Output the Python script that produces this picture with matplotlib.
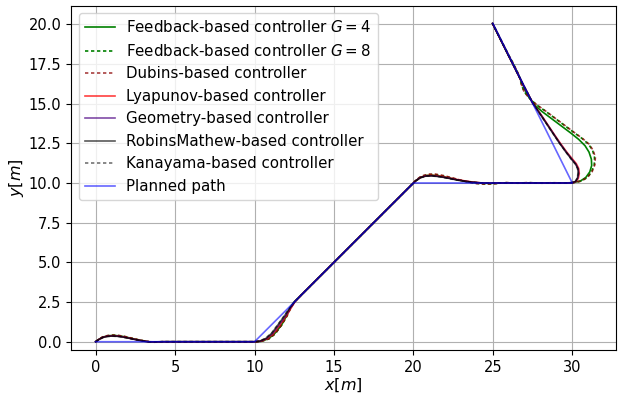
import matplotlib
matplotlib.use("Agg")
import matplotlib.pyplot as plt

# ---------------- data ----------------
plan_x = [0, 10, 20, 30, 25]
plan_y = [0, 0, 10, 10, 20.05]

# RobinsMathew-based controller
rm_x = [0, 0.2, 0.45, 0.75, 1.1, 1.5, 1.9, 2.3, 2.7, 3.1, 3.4, 3.7, 4.2, 10.0,
        10.3, 10.7, 11.1, 11.5, 11.9, 12.2, 12.5, 13.0, 19.8,
        20.15, 20.45, 20.8, 21.2, 21.7, 22.2, 22.7, 23.2, 23.7, 24.2, 24.7, 25.5, 29.7,
        30.0, 30.2, 30.32, 30.38, 30.35, 30.2, 29.95, 29.6, 29.2, 28.8, 28.4, 28.0, 27.7,
        27.5, 27.25, 27.0, 26.6, 26.0, 24.98]
rm_y = [0, 0.14, 0.27, 0.34, 0.36, 0.33, 0.26, 0.18, 0.10, 0.03, -0.01, -0.01, 0.0, 0.0,
        0.03, 0.2, 0.55, 1.1, 1.65, 2.1, 2.5, 3.0, 9.8,
        10.14, 10.34, 10.44, 10.45, 10.39, 10.30, 10.20, 10.12, 10.05, 10.01, 9.99, 10.0, 10.0,
        10.02, 10.1, 10.3, 10.6, 10.9, 11.2, 11.5, 11.95, 12.5, 13.1, 13.7, 14.3, 14.75,
        15.05, 15.55, 16.02, 16.8, 18.0, 20.05]

# Kanayama-based controller
kan_x = [0, 0.2, 0.45, 0.75, 1.1, 1.5, 1.9, 2.3, 2.7, 3.1, 3.4, 3.7, 4.2, 10.0,
         10.3, 10.7, 11.1, 11.5, 11.9, 12.2, 12.5, 13.0, 19.8,
         20.15, 20.45, 20.8, 21.2, 21.7, 22.2, 22.7, 23.2, 23.7, 24.2, 24.7, 25.5, 29.7,
         30.0, 30.2, 30.3, 30.36, 30.33, 30.18, 29.93, 29.6, 29.2, 28.8, 28.4, 28.0, 27.7,
         27.5, 27.25, 27.0, 26.6, 26.0, 24.98]
kan_y = [0, 0.13, 0.26, 0.33, 0.35, 0.32, 0.25, 0.17, 0.09, 0.03, -0.01, -0.01, 0.0, 0.0,
         0.04, 0.22, 0.58, 1.12, 1.68, 2.12, 2.5, 3.0, 9.8,
         10.13, 10.33, 10.43, 10.44, 10.38, 10.29, 10.19, 10.11, 10.05, 10.01, 9.99, 10.0, 10.0,
         10.02, 10.1, 10.3, 10.6, 10.9, 11.2, 11.5, 11.95, 12.5, 13.1, 13.7, 14.3, 14.75,
         15.05, 15.55, 16.02, 16.8, 18.0, 20.05]

# Geometry-based controller
geo_x = [0, 0.2, 0.45, 0.75, 1.1, 1.5, 1.9, 2.3, 2.7, 3.1, 3.4, 3.7, 4.2, 10.0,
         10.35, 10.75, 11.15, 11.55, 11.95, 12.25, 12.55, 13.0, 19.8,
         20.15, 20.45, 20.8, 21.2, 21.7, 22.2, 22.7, 23.2, 23.7, 24.2, 24.7, 25.5, 29.7,
         30.02, 30.22, 30.34, 30.4, 30.37, 30.22, 29.97, 29.62, 29.22, 28.82, 28.42, 28.02, 27.7,
         27.5, 27.25, 27.0, 26.6, 26.0, 24.98]
geo_y = [0, 0.14, 0.28, 0.35, 0.37, 0.34, 0.27, 0.18, 0.10, 0.03, -0.01, -0.01, 0.0, 0.0,
         0.03, 0.19, 0.53, 1.07, 1.62, 2.1, 2.52, 3.0, 9.8,
         10.15, 10.35, 10.45, 10.46, 10.40, 10.31, 10.21, 10.12, 10.05, 10.01, 9.99, 10.0, 10.0,
         10.02, 10.1, 10.3, 10.6, 10.9, 11.2, 11.5, 11.95, 12.5, 13.1, 13.7, 14.3, 14.75,
         15.05, 15.55, 16.02, 16.8, 18.0, 20.05]

# Lyapunov-based controller
lya_x = [0, 0.2, 0.45, 0.75, 1.1, 1.5, 1.9, 2.3, 2.7, 3.1, 3.4, 3.7, 4.2, 10.0,
         10.35, 10.8, 11.2, 11.6, 12.0, 12.3, 12.55, 13.0, 19.8,
         20.15, 20.48, 20.85, 21.25, 21.75, 22.25, 22.75, 23.25, 23.75, 24.25, 24.75, 25.5, 29.7,
         30.03, 30.25, 30.38, 30.44, 30.4, 30.25, 30.0, 29.65, 29.25, 28.85, 28.45, 28.05, 27.72,
         27.5, 27.25, 27.0, 26.6, 26.0, 24.98]
lya_y = [0, 0.15, 0.28, 0.36, 0.38, 0.35, 0.28, 0.19, 0.11, 0.04, 0.0, -0.01, 0.0, 0.0,
         0.03, 0.19, 0.52, 1.05, 1.62, 2.12, 2.53, 3.0, 9.8,
         10.15, 10.37, 10.47, 10.48, 10.42, 10.32, 10.22, 10.13, 10.06, 10.01, 9.99, 10.0, 10.0,
         10.02, 10.1, 10.3, 10.6, 10.92, 11.22, 11.52, 11.95, 12.5, 13.08, 13.68, 14.28, 14.74,
         15.05, 15.55, 16.02, 16.8, 18.0, 20.05]

# Feedback-based controller G = 4
fb4_x = [0, 0.2, 0.45, 0.75, 1.1, 1.5, 1.9, 2.3, 2.7, 3.1, 3.4, 3.7, 4.2, 10.0,
         10.4, 10.9, 11.3, 11.7, 12.0, 12.25, 12.5, 13.0, 19.8,
         20.15, 20.5, 20.9, 21.3, 21.8, 22.3, 22.8, 23.3, 23.8, 24.3, 24.8, 25.5, 29.7,
         30.1, 30.5, 30.85, 31.1, 31.22, 31.2, 31.05, 30.8, 30.4, 29.9, 29.3, 28.7, 28.1, 27.7,
         27.45, 27.2, 27.0, 26.85, 26.6, 26.3, 26.0, 24.98]
fb4_y = [0, 0.15, 0.29, 0.37, 0.40, 0.37, 0.30, 0.20, 0.11, 0.04, -0.01, -0.02, 0.0, 0.0,
         0.02, 0.2, 0.55, 1.05, 1.6, 2.15, 2.5, 3.0, 9.8,
         10.15, 10.38, 10.48, 10.48, 10.41, 10.30, 10.19, 10.10, 10.03, 9.99, 9.98, 10.0, 10.0,
         10.04, 10.12, 10.35, 10.7, 11.1, 11.5, 11.95, 12.35, 12.75, 13.15, 13.6, 14.05, 14.5, 14.85,
         15.15, 15.5, 15.9, 16.3, 16.85, 17.45, 18.0, 20.05]

# Feedback-based controller G = 8
fb8_x = [0, 0.2, 0.45, 0.75, 1.1, 1.5, 1.9, 2.3, 2.7, 3.1, 3.4, 3.7, 4.2, 10.0,
         10.4, 10.9, 11.3, 11.7, 12.05, 12.3, 12.55, 13.0, 19.8,
         20.15, 20.5, 20.95, 21.35, 21.85, 22.35, 22.85, 23.35, 23.85, 24.4, 25.0, 25.8, 26.5, 27.3, 28.1, 28.9, 29.6,
         30.1, 30.55, 30.95, 31.22, 31.38, 31.4, 31.28, 31.02, 30.62, 30.08, 29.48, 28.88, 28.28, 27.78,
         27.5, 27.2, 26.95, 26.8, 26.7, 26.53, 26.3, 26.0, 24.98]
fb8_y = [0, 0.15, 0.30, 0.38, 0.41, 0.38, 0.31, 0.21, 0.12, 0.04, -0.01, -0.02, 0.0, 0.0,
         0.02, 0.18, 0.5, 1.05, 1.63, 2.18, 2.55, 3.0, 9.8,
         10.16, 10.42, 10.53, 10.53, 10.45, 10.33, 10.2, 10.08, 9.99, 9.94, 9.95, 10.02, 9.99, 10.02, 9.99, 10.01, 10.0,
         10.03, 10.12, 10.35, 10.72, 11.15, 11.6, 12.05, 12.45, 12.8, 13.2, 13.65, 14.1, 14.55, 14.9,
         15.15, 15.45, 15.8, 16.2, 16.6, 17.0, 17.5, 18.05, 20.05]

# Dubins-based controller
dub_x = [0, 0.2, 0.45, 0.75, 1.1, 1.5, 1.9, 2.3, 2.7, 3.1, 3.4, 3.7, 4.2, 10.0,
         10.4, 10.9, 11.3, 11.7, 12.05, 12.3, 12.55, 13.0, 19.8,
         20.15, 20.5, 20.95, 21.4, 21.9, 22.4, 22.9, 23.4, 23.9, 24.5, 25.1, 25.8, 26.5, 27.2, 28.0, 28.7, 29.5,
         30.1, 30.55, 30.95, 31.25, 31.42, 31.45, 31.32, 31.05, 30.65, 30.1, 29.5, 28.9, 28.3, 27.8,
         27.5, 27.2, 26.95, 26.8, 26.72, 26.55, 26.3, 26.0, 24.98]
dub_y = [0, 0.16, 0.31, 0.39, 0.42, 0.39, 0.32, 0.22, 0.12, 0.04, -0.01, -0.03, 0.0, 0.0,
         0.02, 0.18, 0.5, 1.05, 1.65, 2.2, 2.55, 3.0, 9.8,
         10.17, 10.44, 10.56, 10.56, 10.47, 10.34, 10.2, 10.07, 9.97, 9.93, 9.95, 10.03, 9.98, 10.03, 9.98, 10.02, 10.0,
         10.03, 10.12, 10.35, 10.72, 11.15, 11.6, 12.05, 12.45, 12.8, 13.2, 13.65, 14.1, 14.55, 14.9,
         15.15, 15.45, 15.8, 16.2, 16.6, 17.0, 17.5, 18.05, 20.05]

xticks = [0, 5, 10, 15, 20, 25, 30]
yticks = [0.0, 2.5, 5.0, 7.5, 10.0, 12.5, 15.0, 17.5, 20.0]

# ---------------- figure ----------------
W, H = 619, 405
fig = plt.figure(figsize=(W / 100, H / 100), dpi=100)
ax = fig.add_axes([71 / W, 1 - 350 / H, (616 - 71) / W, (350 - 6) / H])

lw = 1.2
dsh = (2.0, 1.6)
ax.plot(fb4_x, fb4_y, color='green', lw=lw, label='Feedback-based controller $G=4$')
ax.plot(fb8_x, fb8_y, color='green', lw=lw, ls='--', dashes=dsh, label='Feedback-based controller $G=8$')
ax.plot(dub_x, dub_y, color='darkred', alpha=0.75, lw=lw, ls='--', dashes=dsh, label='Dubins-based controller')
ax.plot(lya_x, lya_y, color='red', alpha=0.75, lw=lw, label='Lyapunov-based controller')
ax.plot(geo_x, geo_y, color='indigo', alpha=0.7, lw=lw, label='Geometry-based controller')
ax.plot(rm_x, rm_y, color='black', alpha=0.65, lw=lw, label='RobinsMathew-based controller')
ax.plot(kan_x, kan_y, color='black', alpha=0.55, lw=lw, ls='--', dashes=dsh, label='Kanayama-based controller')
ax.plot(plan_x, plan_y, color='blue', alpha=0.6, lw=lw, label='Planned path')

ax.set_xlim(-1.55, 32.75)
ax.set_ylim(-0.52, 21.15)
ax.set_xticks(xticks)
ax.set_yticks(yticks)
ax.set_yticklabels([f"{v:.1f}" for v in yticks])
ax.tick_params(labelsize=10.5)
ax.grid(True, color='#b0b0b0', lw=0.8)
ax.set_xlabel('$x[m]$', fontsize=11.5, labelpad=1)
ax.set_ylabel('$y[m]$', fontsize=11.5, labelpad=2)

ax.legend(loc='upper left', fontsize=10.8, handlelength=2.0, borderaxespad=0.5)

fig.savefig('out.png', dpi=100)
